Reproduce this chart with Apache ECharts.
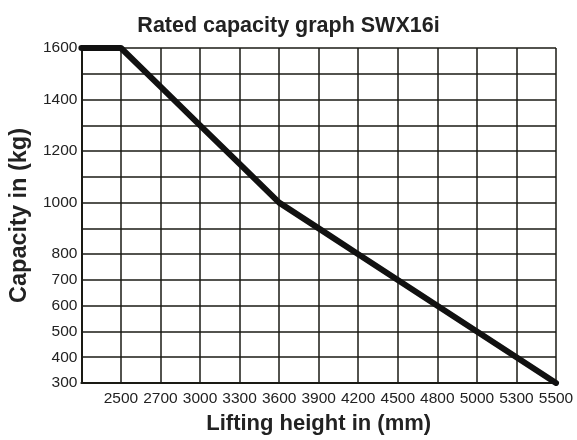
<!DOCTYPE html>
<html>
<head>
<meta charset="utf-8">
<script src="https://cdn.jsdelivr.net/npm/echarts@6/dist/echarts.min.js"></script>
<style>
html,body{margin:0;padding:0;background:#fff;}
#chart{width:577px;height:440px;}
</style>
</head>
<body>
<div id="chart"></div>
<script>
const titleText = 'Rated capacity graph SWX16i';
const xAxisName = 'Lifting height in (mm)';
const yAxisName = 'Capacity in (kg)';
const heights = ['', '2500', '2700', '3000', '3300', '3600', '3900', '4200', '4500', '4800', '5000', '5300', '5500'];
const capacity = [1600, 1600, 1450, 1300, 1150, 1000, 900, 800, 700, 600, 500, 400, 300];
const yLabels = [300, 400, 500, 600, 700, 800, 1000, 1200, 1400, 1600];

const FONT = '"Liberation Sans", Arial, sans-serif';
const chart = echarts.init(document.getElementById('chart'));
chart.setOption({
  animation: false,
  backgroundColor: '#fff',
  title: {
    text: titleText,
    left: 'center',
    top: 10,
    textStyle: { fontFamily: FONT, fontSize: 21.5, fontWeight: 'bold', color: '#222' }
  },
  grid: { left: 81, right: 21, top: 48, bottom: 57 },
  xAxis: {
    type: 'category',
    data: heights,
    boundaryGap: false,
    name: xAxisName,
    nameLocation: 'middle',
    nameGap: 30,
    nameTextStyle: { fontFamily: FONT, fontSize: 22, fontWeight: 'bold', color: '#222' },
    axisLine: { lineStyle: { color: '#1a1a14', width: 2 } },
    axisTick: { show: false },
    axisLabel: { fontFamily: FONT, fontSize: 15.5, color: '#222', margin: 8, interval: 0 },
    splitLine: { show: true, interval: 0, lineStyle: { color: '#1a1a14', width: 1.5 } }
  },
  yAxis: {
    type: 'value',
    min: 300,
    max: 1600,
    interval: 100,
    name: yAxisName,
    nameLocation: 'middle',
    nameGap: 42,
    nameTextStyle: { fontFamily: FONT, fontSize: 23.5, fontWeight: 'bold', color: '#222' },
    axisLine: { show: true, lineStyle: { color: '#1a1a14', width: 2 } },
    axisTick: { show: false },
    axisLabel: {
      fontFamily: FONT, fontSize: 15.5, color: '#222', margin: 4,
      formatter: v => yLabels.indexOf(v) >= 0 ? String(v) : ''
    },
    splitLine: { show: true, lineStyle: { color: '#1a1a14', width: 1.5 } }
  },
  series: [{
    type: 'line',
    data: capacity,
    symbol: 'none',
    lineStyle: { color: '#111', width: 6, cap: 'round', join: 'round' }
  }]
});
</script>
</body>
</html>
